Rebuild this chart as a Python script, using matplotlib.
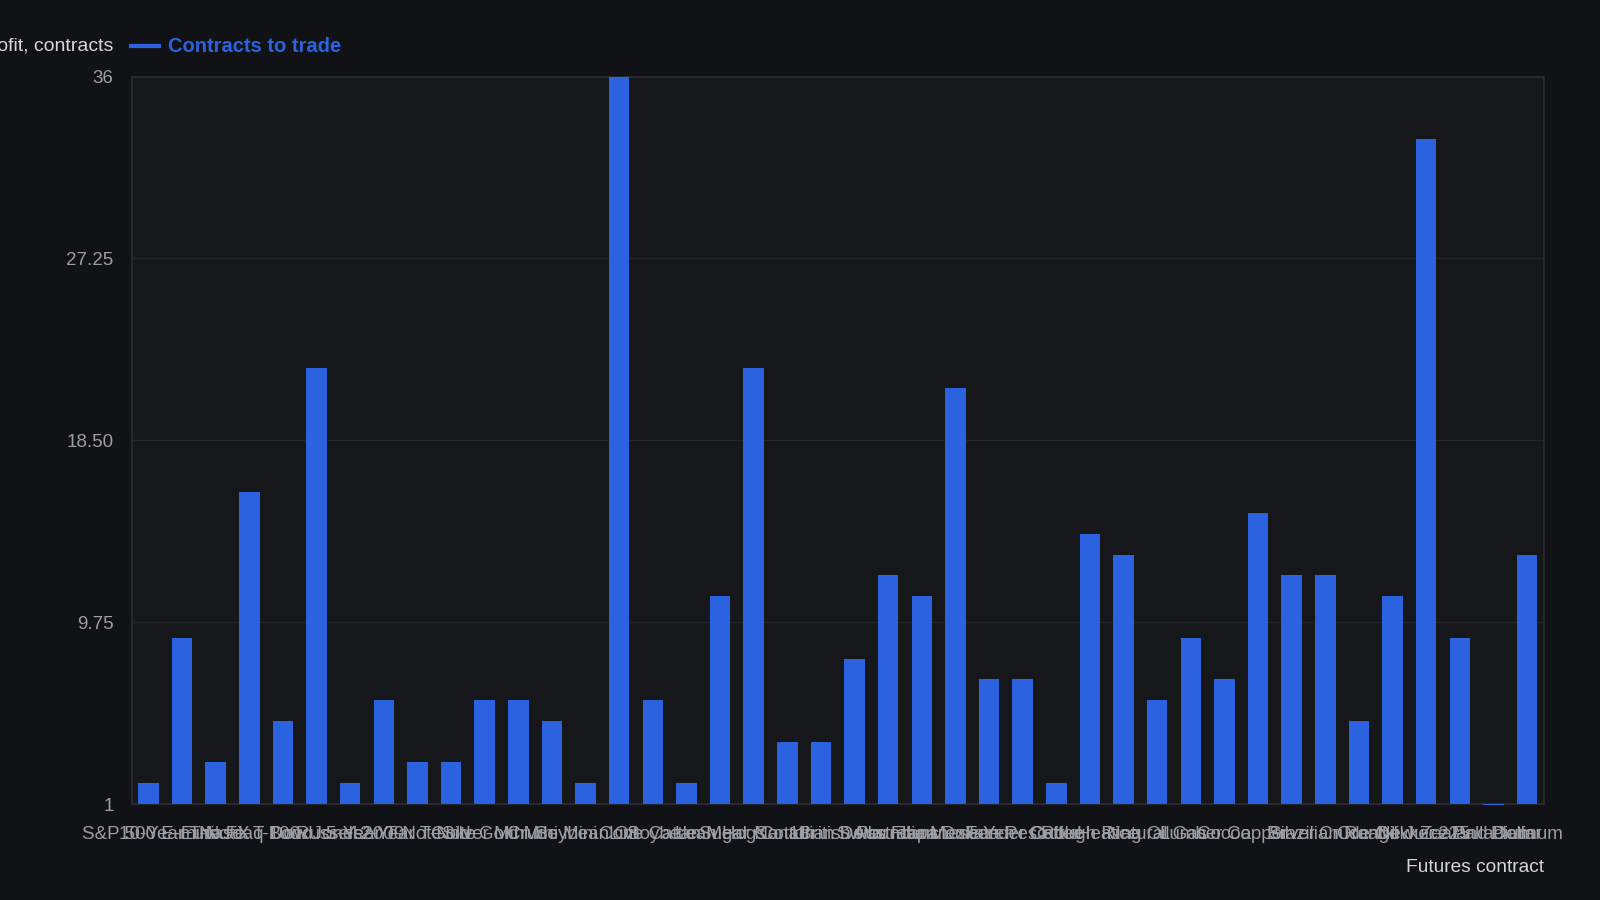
"""Contracts to trade per futures contract, dark dashboard-style bar chart."""

import matplotlib

matplotlib.use("Agg")
import matplotlib.pyplot as plt
from matplotlib.lines import Line2D

contracts = [
    "S&P 500 E-mini", "10-Year T-Note", "Euro FX", "Nasdaq 100", "T-Bond",
    "Dow Jones", "Russell 2000", "5-Year T-Note", "2-Year T-Note", "Gold",
    "Silver Mini", "Gold Mini", "Crude Mini", "Soybean Oil", "Corn",
    "Live Cattle", "Soybean Meal", "Lean Hogs", "Sugar No. 11", "Cotton",
    "Canadian Dollar", "British Pound", "Swiss Franc", "Australian Dollar",
    "Japanese Yen", "Mexican Peso", "Feeder Cattle", "Coffee", "Rough Rice",
    "Heating Oil", "Natural Gas", "Lumber", "Cocoa", "Copper", "Silver",
    "Brazilian Real", "Crude Oil", "Orange Juice", "Nikkei 225",
    "New Zealand Dollar", "Palladium", "Platinum",
]
contracts_to_trade = [
    2, 9, 3, 16, 5, 22, 2, 6, 3, 3,
    6, 6, 5, 2, 36, 6, 2, 11, 22, 4,
    4, 8, 12, 11, 21, 7, 7, 2, 14, 13,
    6, 9, 7, 15, 12, 12, 5, 11, 33, 9,
    0.95, 13,
]
y_ticks = [1, 9.75, 18.5, 27.25, 36]
y_tick_labels = ["1", "9.75", "18.50", "27.25", "36"]

FIG_BG = "#111216"
AX_BG = "#16171b"
BAR = "#2b62e0"
GRID = "#24252a"
TICK = "#9d9ea3"

plt.rcParams["font.family"] = ["Liberation Sans", "DejaVu Sans"]

fig = plt.figure(figsize=(16, 9), dpi=100, facecolor=FIG_BG)
ax = fig.add_axes([0.0823, 0.1066, 0.8826, 0.8084], facecolor=AX_BG)

x = range(len(contracts))
base = y_ticks[0]
bars = ax.bar(x, [v - base for v in contracts_to_trade], bottom=base,
              width=0.61, color=BAR, zorder=3)
for b in bars:
    b.set_clip_on(False)

ax.set_xlim(-0.5, len(contracts) - 0.5)
ax.set_ylim(y_ticks[0], y_ticks[-1])
ax.set_yticks(y_ticks)
ax.set_yticklabels(y_tick_labels)
ax.set_xticks(list(x))
ax.set_xticklabels(contracts)
ax.tick_params(axis="both", length=0, colors=TICK, labelsize=13.5)
ax.tick_params(axis="x", pad=15.5)
ax.tick_params(axis="y", pad=13)
ax.grid(axis="y", color=GRID, linewidth=1, zorder=0)
for spine in ax.spines.values():
    spine.set_color("#2c2d32")
    spine.set_linewidth(1.2)

fig.text(0.9649, 0.036, "Futures contract", ha="right", va="center",
         color="#d6d6d8", fontsize=13.8)

# series labels sit above the plot; the first one runs off the left edge
fig.text(0.0710, 0.948, "Minimum contracts for profit, contracts",
         ha="right", va="center", color="#d6d6d8", fontsize=14)
fig.add_artist(Line2D([0.0816, 0.0995], [0.949, 0.949], color=BAR,
                      linewidth=3, transform=fig.transFigure))
fig.text(0.1052, 0.948, "Contracts to trade", ha="left", va="center",
         color=BAR, fontsize=14.5, fontweight="bold")

fig.savefig("out.png", dpi=100, facecolor=FIG_BG)
